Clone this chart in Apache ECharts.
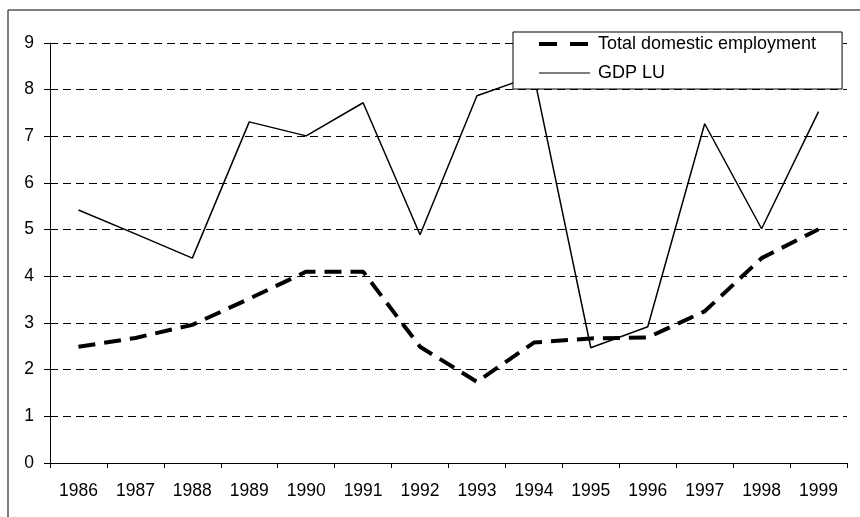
<!DOCTYPE html>
<html>
<head>
<meta charset="utf-8">
<script src="https://cdn.jsdelivr.net/npm/echarts@6/dist/echarts.min.js"></script>
<style>
html, body { margin: 0; padding: 0; background: #fff; }
#chart { width: 860px; height: 517px; }
</style>
</head>
<body>
<div id="chart"></div>
<script>
var years = ['1986', '1987', '1988', '1989', '1990', '1991', '1992',
             '1993', '1994', '1995', '1996', '1997', '1998', '1999'];
var employment = [2.49, 2.68, 2.96, 3.52, 4.1, 4.1, 2.49,
                  1.74, 2.58, 2.67, 2.69, 3.25, 4.39, 5.01];
var gdp = [5.42, 4.91, 4.39, 7.31, 7.01, 7.72, 4.89,
           7.87, 8.3, 2.47, 2.92, 7.27, 5.02, 7.53];
var yTicks = {min: 0, max: 9, step: 1};

var myChart = echarts.init(document.getElementById('chart'));

var font = 'Liberation Sans, Arial, sans-serif';

var series = [
    {
        name: 'Total domestic employment',
        type: 'line',
        data: employment,
        symbol: 'none',
        color: '#000',
        lineStyle: {color: '#000', width: 4, type: [17, 9]},
        z: 3
    },
    {
        name: 'GDP LU',
        type: 'line',
        data: gdp,
        symbol: 'none',
        color: '#000',
        lineStyle: {color: '#000', width: 1.5, type: 'solid'},
        z: 2
    }
];

var option = {
    backgroundColor: '#fff',
    animation: false,
    grid: {left: 50, right: 13, top: 43, bottom: 54},
    legend: {
        orient: 'vertical',
        left: 513,
        top: 32,
        data: [
            {
                name: 'Total domestic employment',
                itemStyle: {opacity: 0},
                lineStyle: {color: '#000', width: 4, type: [18, 13]}
            },
            {
                name: 'GDP LU',
                itemStyle: {opacity: 0},
                lineStyle: {color: '#000', width: 1.2, type: 'solid'}
            }
        ],
        backgroundColor: '#fff',
        borderColor: '#000',
        borderWidth: 1,
        borderRadius: 0,
        padding: [3, 26, 7, 24],
        itemGap: 11,
        itemWidth: 51,
        itemHeight: 14,
        textStyle: {color: '#000', fontSize: 18, fontFamily: font, lineHeight: 17, padding: [0, 0, 0, 3]},
        z: 10
    },
    xAxis: {
        type: 'category',
        data: years,
        boundaryGap: true,
        axisLine: {lineStyle: {color: '#000', width: 1}},
        axisTick: {show: true, length: 5, lineStyle: {color: '#000'}},
        axisLabel: {color: '#000', fontSize: 17.5, fontFamily: font, margin: 19}
    },
    yAxis: {
        type: 'value',
        min: yTicks.min,
        max: yTicks.max,
        interval: yTicks.step,
        axisLine: {show: true, lineStyle: {color: '#000', width: 1}},
        axisTick: {show: true, length: 6, lineStyle: {color: '#000'}},
        axisLabel: {color: '#000', fontSize: 17.5, fontFamily: font, margin: 16},
        splitLine: {show: true, lineStyle: {color: '#000', width: 1, type: [8, 5]}}
    },
    graphic: [
        {type: 'line', shape: {x1: 8, y1: 10, x2: 860, y2: 10}, style: {stroke: '#555', lineWidth: 1.5}},
        {type: 'line', shape: {x1: 8, y1: 10, x2: 8, y2: 517}, style: {stroke: '#555', lineWidth: 1.5}}
    ],
    series: series
};

myChart.setOption(option);
</script>
</body>
</html>
